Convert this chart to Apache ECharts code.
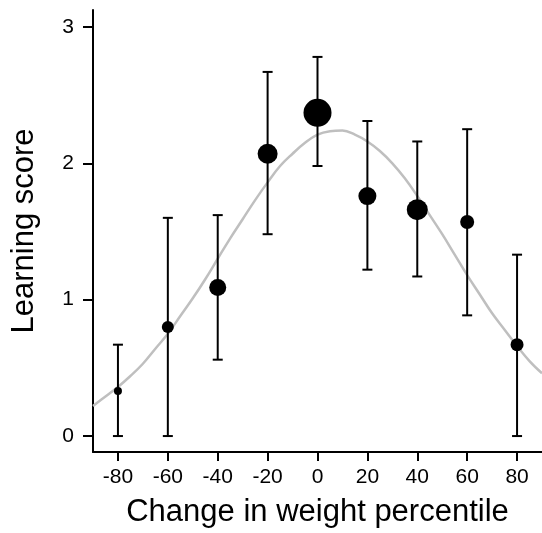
<!DOCTYPE html>
<html>
<head>
<meta charset="utf-8">
<script src="https://cdn.jsdelivr.net/npm/echarts@6/dist/echarts.min.js"></script>
<style>
  html, body { margin: 0; padding: 0; background: #fff; }
  #main { width: 542px; height: 533px; }
</style>
</head>
<body>
<div id="main"></div>
<script>
// group means with confidence intervals
var weightChange = [-80, -60, -40, -20, 0, 20, 40, 60, 80];
var learningScore = [0.33, 0.80, 1.09, 2.07, 2.37, 1.76, 1.66, 1.57, 0.67];
var lowerBound = [0, 0, 0.56, 1.48, 1.98, 1.22, 1.17, 0.885, 0];
var upperBound = [0.67, 1.60, 1.62, 2.67, 2.78, 2.31, 2.16, 2.25, 1.33];

// fitted curve
var curveX = [-90, -85, -80, -75, -70, -65, -60, -55, -50, -45, -40, -35, -30, -25, -20, -15, -10, -5,
              0, 5, 10, 15, 20, 25, 30, 35, 40, 45, 50, 55, 60, 65, 70, 75, 80, 85, 90];
var curveY = [0.22, 0.29, 0.36, 0.44, 0.53, 0.64, 0.75, 0.88, 1.01, 1.15, 1.30, 1.45, 1.59, 1.73, 1.86, 1.98, 2.07, 2.15,
              2.21, 2.235, 2.24, 2.21, 2.16, 2.09, 2.00, 1.89, 1.76, 1.62, 1.48, 1.33, 1.18, 1.04, 0.90, 0.78, 0.66, 0.55, 0.46];

var xTicks = [-80, -60, -40, -20, 0, 20, 40, 60, 80];
var yTicks = [0, 1, 2, 3];

// marker diameters (px)
var markerSize = [8, 12, 17, 20, 28, 18, 21, 14, 13];

var FONT = 'Liberation Sans, Arial, sans-serif';

var chart = echarts.init(document.getElementById('main'));

var option = {
    animation: false,
    backgroundColor: '#fff',
    grid: { left: 93, right: 0, top: 10, bottom: 80 },
    xAxis: {
        type: 'value',
        min: -90,
        max: 90,
        name: 'Change in weight percentile',
        nameLocation: 'middle',
        nameGap: 45,
        nameTextStyle: { fontSize: 31, color: '#000', fontFamily: FONT },
        axisLine: { onZero: false, lineStyle: { color: '#000', width: 2 } },
        axisTick: { customValues: xTicks, length: 9, lineStyle: { color: '#000', width: 2 } },
        axisLabel: { customValues: xTicks, margin: 15, fontSize: 21, color: '#000', fontFamily: FONT },
        splitLine: { show: false }
    },
    yAxis: {
        type: 'value',
        min: -0.117,
        max: 3.124,
        name: 'Learning score',
        nameLocation: 'middle',
        nameGap: 53,
        nameTextStyle: { fontSize: 31, color: '#000', fontFamily: FONT },
        axisLine: { show: true, onZero: false, lineStyle: { color: '#000', width: 2 } },
        axisTick: { customValues: yTicks, length: 10, lineStyle: { color: '#000', width: 2 } },
        axisLabel: { customValues: yTicks, margin: 19, fontSize: 21, color: '#000', fontFamily: FONT },
        splitLine: { show: false }
    },
    series: [
        {
            type: 'line',
            data: curveX.map(function (x, i) { return [x, curveY[i]]; }),
            smooth: 0.4,
            showSymbol: false,
            lineStyle: { color: '#bfbfbf', width: 2.5 },
            z: 1
        },
        {
            type: 'custom',
            data: weightChange.map(function (x, i) { return [x, lowerBound[i], upperBound[i]]; }),
            renderItem: function (params, api) {
                var lo = api.coord([api.value(0), api.value(1)]);
                var hi = api.coord([api.value(0), api.value(2)]);
                var cap = 5;
                var st = { stroke: '#000', lineWidth: 2 };
                return {
                    type: 'group',
                    children: [
                        { type: 'line', shape: { x1: lo[0], y1: lo[1], x2: hi[0], y2: hi[1] }, style: st },
                        { type: 'line', shape: { x1: lo[0] - cap, y1: lo[1], x2: lo[0] + cap, y2: lo[1] }, style: st },
                        { type: 'line', shape: { x1: hi[0] - cap, y1: hi[1], x2: hi[0] + cap, y2: hi[1] }, style: st }
                    ]
                };
            },
            z: 2
        },
        {
            type: 'scatter',
            data: weightChange.map(function (x, i) { return [x, learningScore[i]]; }),
            symbolSize: function (val, params) { return markerSize[params.dataIndex]; },
            itemStyle: { color: '#000', opacity: 1 },
            z: 3
        }
    ]
};

chart.setOption(option);
</script>
</body>
</html>
